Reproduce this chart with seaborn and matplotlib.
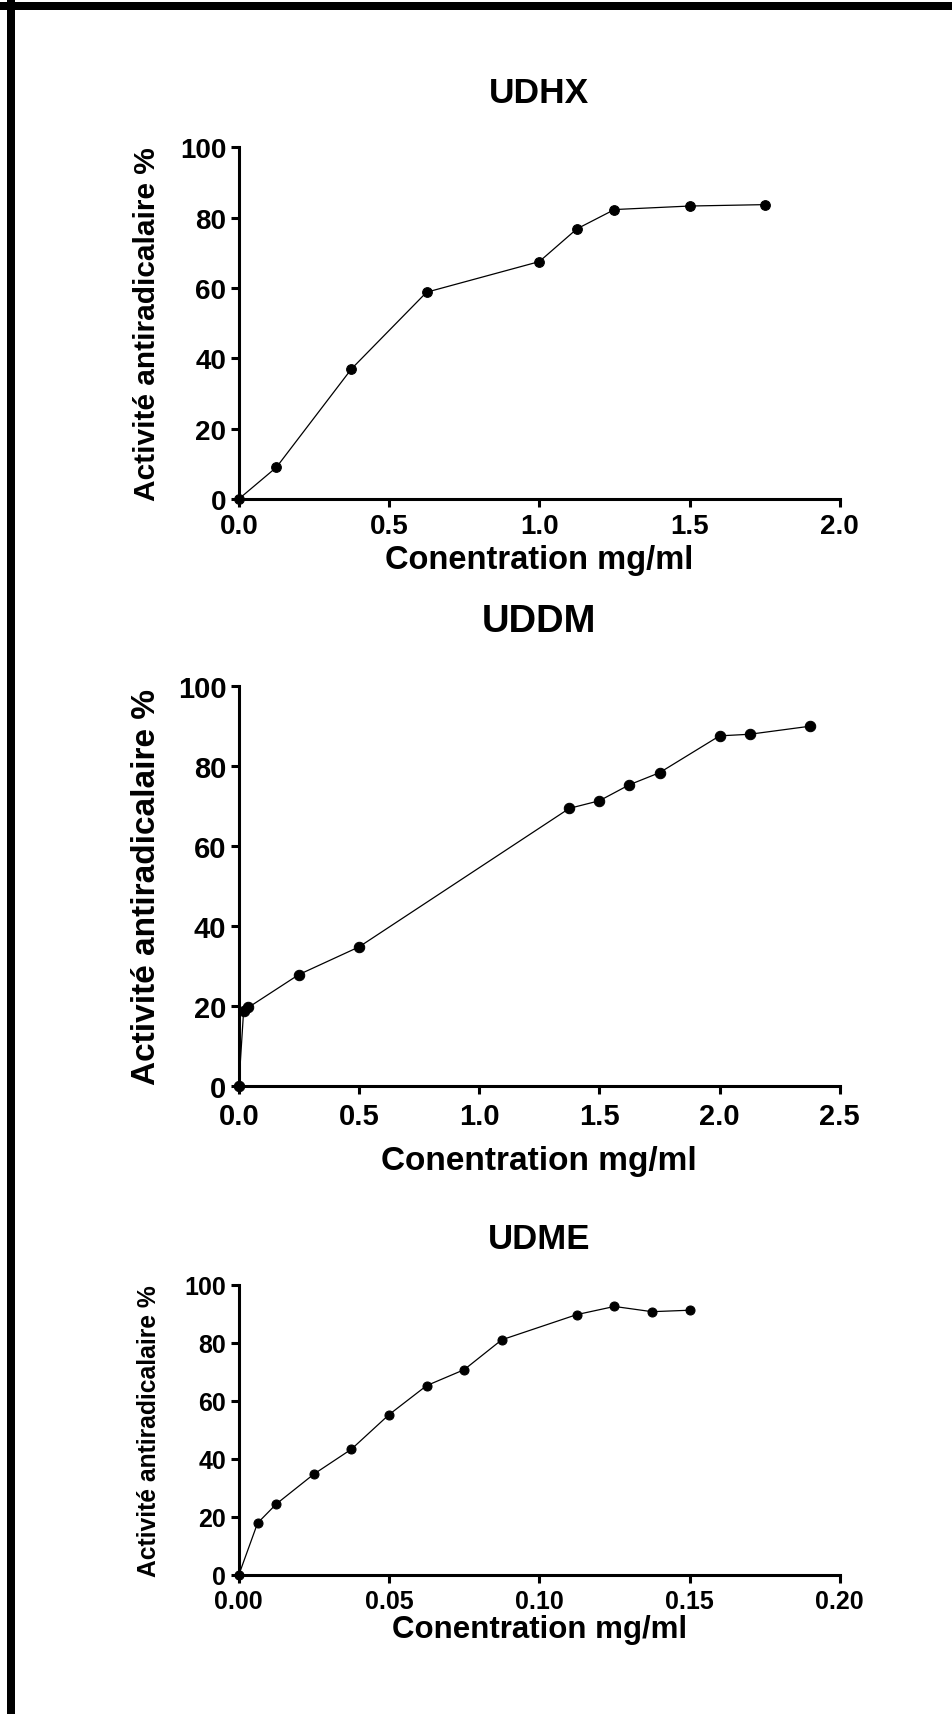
import matplotlib
matplotlib.use("Agg")
import matplotlib.pyplot as plt
import seaborn as sns
import numpy as np
import pandas as pd
from matplotlib.patches import Rectangle
from matplotlib.ticker import FormatStrFormatter

# ---------------- data ----------------
udhx_conc = [0, 0.125, 0.375, 0.625, 1.0, 1.125, 1.25, 1.5, 1.75]
udhx_act = [0, 9.0, 37.0, 58.8, 67.5, 76.8, 82.3, 83.3, 83.7]

uddm_conc = [0, 0.02, 0.04, 0.25, 0.5, 1.375, 1.5, 1.625, 1.75, 2.0, 2.125, 2.375]
uddm_act = [0, 18.8, 19.7, 27.9, 34.8, 69.4, 71.3, 75.3, 78.3, 87.5, 87.9, 89.9]

udme_conc = [0, 0.00625, 0.0125, 0.025, 0.0375, 0.05, 0.0625, 0.075, 0.0875,
             0.1125, 0.125, 0.1375, 0.15]
udme_act = [0, 17.9, 24.5, 34.8, 43.4, 55.3, 65.3, 70.8, 81.1, 89.8, 92.6, 90.8, 91.3]

titles = ["UDHX", "UDDM", "UDME"]
xlabel = "Conentration mg/ml"
ylabel = "Activité antiradicalaire %"
xticks_list = [[0.0, 0.5, 1.0, 1.5, 2.0],
               [0.0, 0.5, 1.0, 1.5, 2.0, 2.5],
               [0.00, 0.05, 0.10, 0.15, 0.20]]
yticks = [0, 20, 40, 60, 80, 100]

# ---------------- style ----------------
sns.set_theme(style="ticks")
plt.rcParams["font.family"] = ["Liberation Sans", "DejaVu Sans"]
plt.rcParams["font.weight"] = "bold"

W, H = 952, 1715
fig = plt.figure(figsize=(W / 100, H / 100), dpi=100)
fig.patch.set_facecolor("white")

# frame decoration (left and top black bars)
fig.patches.append(Rectangle((7 / W, 0), 8 / W, 1, transform=fig.transFigure,
                             facecolor="black", edgecolor="none"))
fig.patches.append(Rectangle((0, 1 - 11 / H), 1, 8 / H, transform=fig.transFigure,
                             facecolor="black", edgecolor="none"))

# axes boxes in pixels: (left, top, right, bottom)
boxes = [(238.8, 148.3, 839.8, 500.0),
         (238.8, 686.8, 839.8, 1087.3),
         (238.8, 1286.0, 839.8, 1576.0)]

datasets = [(udhx_conc, udhx_act), (uddm_conc, uddm_act), (udme_conc, udme_act)]
fmts = ["%.1f", "%.1f", "%.2f"]
xmax = [2.0, 2.5, 0.20]

title_off = [55, 65, 46]       # px above axes top (center)
tick_fs = [20, 21, 18]
title_fs = [25.5, 27.5, 25]
xlab_fs = [23.5, 24, 22.5]
ylab_fs = [21.5, 24, 17.7]
xlab_off = [60, 74, 54]        # px below axis (center)
ylab_off = [92, 92, 90]        # px left of axis (center)
xpad = [4, 5, 4]
msize = [7, 7.5, 6.5]

for i in range(3):
    l, t, r, b = boxes[i]
    ax = fig.add_axes([l / W, 1 - b / H, (r - l) / W, (b - t) / H])
    ax.set_facecolor("white")
    df = pd.DataFrame({"conc": datasets[i][0], "act": datasets[i][1]})
    sns.lineplot(data=df, x="conc", y="act", ax=ax, color="black",
                 linewidth=0.9, marker="o", markersize=msize[i],
                 markeredgecolor="black", markerfacecolor="black",
                 clip_on=False, zorder=5)
    ax.set_xlim(0, xmax[i])
    ax.set_ylim(0, 100)
    ax.set_xticks(xticks_list[i])
    ax.set_yticks(yticks)
    ax.xaxis.set_major_formatter(FormatStrFormatter(fmts[i]))
    for s in ["top", "right"]:
        ax.spines[s].set_visible(False)
    for s in ["left", "bottom"]:
        ax.spines[s].set_linewidth(2.2)
        ax.spines[s].set_color("black")
    ax.tick_params(axis="both", direction="out", length=6, width=2.2,
                   color="black", labelsize=tick_fs[i], labelcolor="black")
    ax.tick_params(axis="x", pad=xpad[i])
    ax.tick_params(axis="y", pad=3)
    for lab in ax.get_xticklabels() + ax.get_yticklabels():
        lab.set_fontweight("bold")

    hpx = b - t
    wpx = r - l
    ax.set_xlabel(xlabel, fontsize=xlab_fs[i], fontweight="bold", color="black")
    ax.xaxis.set_label_coords(0.5, -xlab_off[i] / hpx)
    ax.xaxis.label.set_va("center")
    ax.set_ylabel(ylabel, fontsize=ylab_fs[i], fontweight="bold", color="black")
    ax.yaxis.set_label_coords(-ylab_off[i] / wpx, 0.5)
    ax.yaxis.label.set_va("center")

    ax.text(0.5, 1 + title_off[i] / hpx, titles[i], transform=ax.transAxes,
            ha="center", va="center", fontsize=title_fs[i], fontweight="bold",
            color="black")

fig.savefig("out.png", dpi=100, facecolor="white")
